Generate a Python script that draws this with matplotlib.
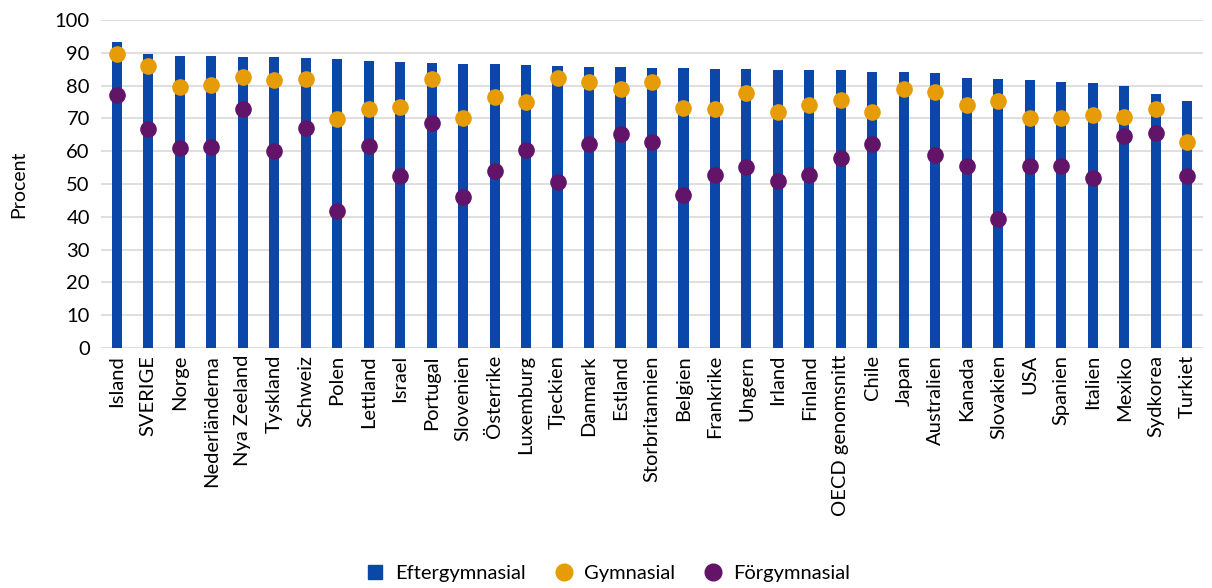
import numpy as np
import matplotlib.pyplot as plt
from matplotlib.lines import Line2D

countries = ["Island", "SVERIGE", "Norge", "Nederländerna", "Nya Zeeland", "Tyskland", "Schweiz",
             "Polen", "Lettland", "Israel", "Portugal", "Slovenien", "Österrike", "Luxemburg",
             "Tjeckien", "Danmark", "Estland", "Storbritannien", "Belgien", "Frankrike", "Ungern",
             "Irland", "Finland", "OECD genomsnitt", "Chile", "Japan", "Australien", "Kanada",
             "Slovakien", "USA", "Spanien", "Italien", "Mexiko", "Sydkorea", "Turkiet"]
eftergymnasial = [93.2, 89.6, 88.9, 88.9, 88.7, 88.6, 88.3, 88.2, 87.6, 87.2, 86.9, 86.6, 86.5,
                  86.4, 86.0, 85.8, 85.7, 85.5, 85.3, 85.0, 85.0, 84.8, 84.8, 84.7, 84.3, 84.0,
                  83.9, 82.3, 82.0, 81.8, 81.0, 80.8, 79.9, 77.3, 75.3]
gymnasial = [89.5, 86.1, 79.7, 80.2, 82.6, 81.7, 81.9, 69.7, 72.9, 73.6, 81.9, 70.2, 76.6,
             74.9, 82.2, 81.1, 78.9, 81.1, 73.3, 73.0, 77.7, 72.0, 74.2, 75.6, 71.9, 79.1,
             78.2, 74.2, 75.4, 70.0, 70.2, 70.9, 70.5, 73.0, 62.7]
forgymnasial = [77.0, 66.9, 61.1, 61.3, 72.9, 60.0, 67.2, 41.9, 61.5, 52.5, 68.5, 46.1, 54.1,
                60.5, 50.7, 62.2, 65.4, 62.8, 46.7, 52.8, 55.2, 50.9, 52.8, 57.8, 62.2, np.nan,
                59.0, 55.6, 39.2, 55.5, 55.5, 51.9, 64.6, 65.7, 52.4]

blue = "#0A47A8"
orange = "#E59C06"
purple = "#621468"

plt.rcParams["font.family"] = ["Lato", "DejaVu Sans"]

fig = plt.figure(figsize=(12.12, 5.88), dpi=100)
ax = fig.add_axes([0.0833, 0.408, 0.9093, 0.558])

x = np.arange(len(countries))
ax.bar(x, eftergymnasial, width=0.32, color=blue, zorder=2)
ax.scatter(x, gymnasial, s=120, color=orange, zorder=3)
ax.scatter(x, forgymnasial, s=120, color=purple, zorder=3)

ax.set_xlim(-0.5, len(countries) - 0.5)
ax.set_ylim(0, 100)
ax.set_yticks(np.arange(0, 101, 10))
ax.grid(axis="y", color="#D9D9D9", linewidth=1.2, zorder=0)
ax.set_axisbelow(True)
for s in ax.spines.values():
    s.set_visible(False)
ax.tick_params(length=0, labelsize=14.5)
ax.tick_params(axis="y", pad=8)
ax.tick_params(axis="x", pad=5)
ax.set_xticks(x)
ax.set_xticklabels(countries, rotation=90)
ax.set_ylabel("Procent", fontsize=14, labelpad=20)

handles = [Line2D([], [], marker="s", color=blue, linestyle="none", markersize=10),
           Line2D([], [], marker="o", color=orange, linestyle="none", markersize=12),
           Line2D([], [], marker="o", color=purple, linestyle="none", markersize=12)]
fig.legend(handles, ["Eftergymnasial", "Gymnasial", "Förgymnasial"], loc="lower center",
           ncol=3, frameon=False, fontsize=14.5, bbox_to_anchor=(0.497, -0.02),
           handletextpad=0.0, columnspacing=0.9)

fig.savefig("out.png", dpi=100)
